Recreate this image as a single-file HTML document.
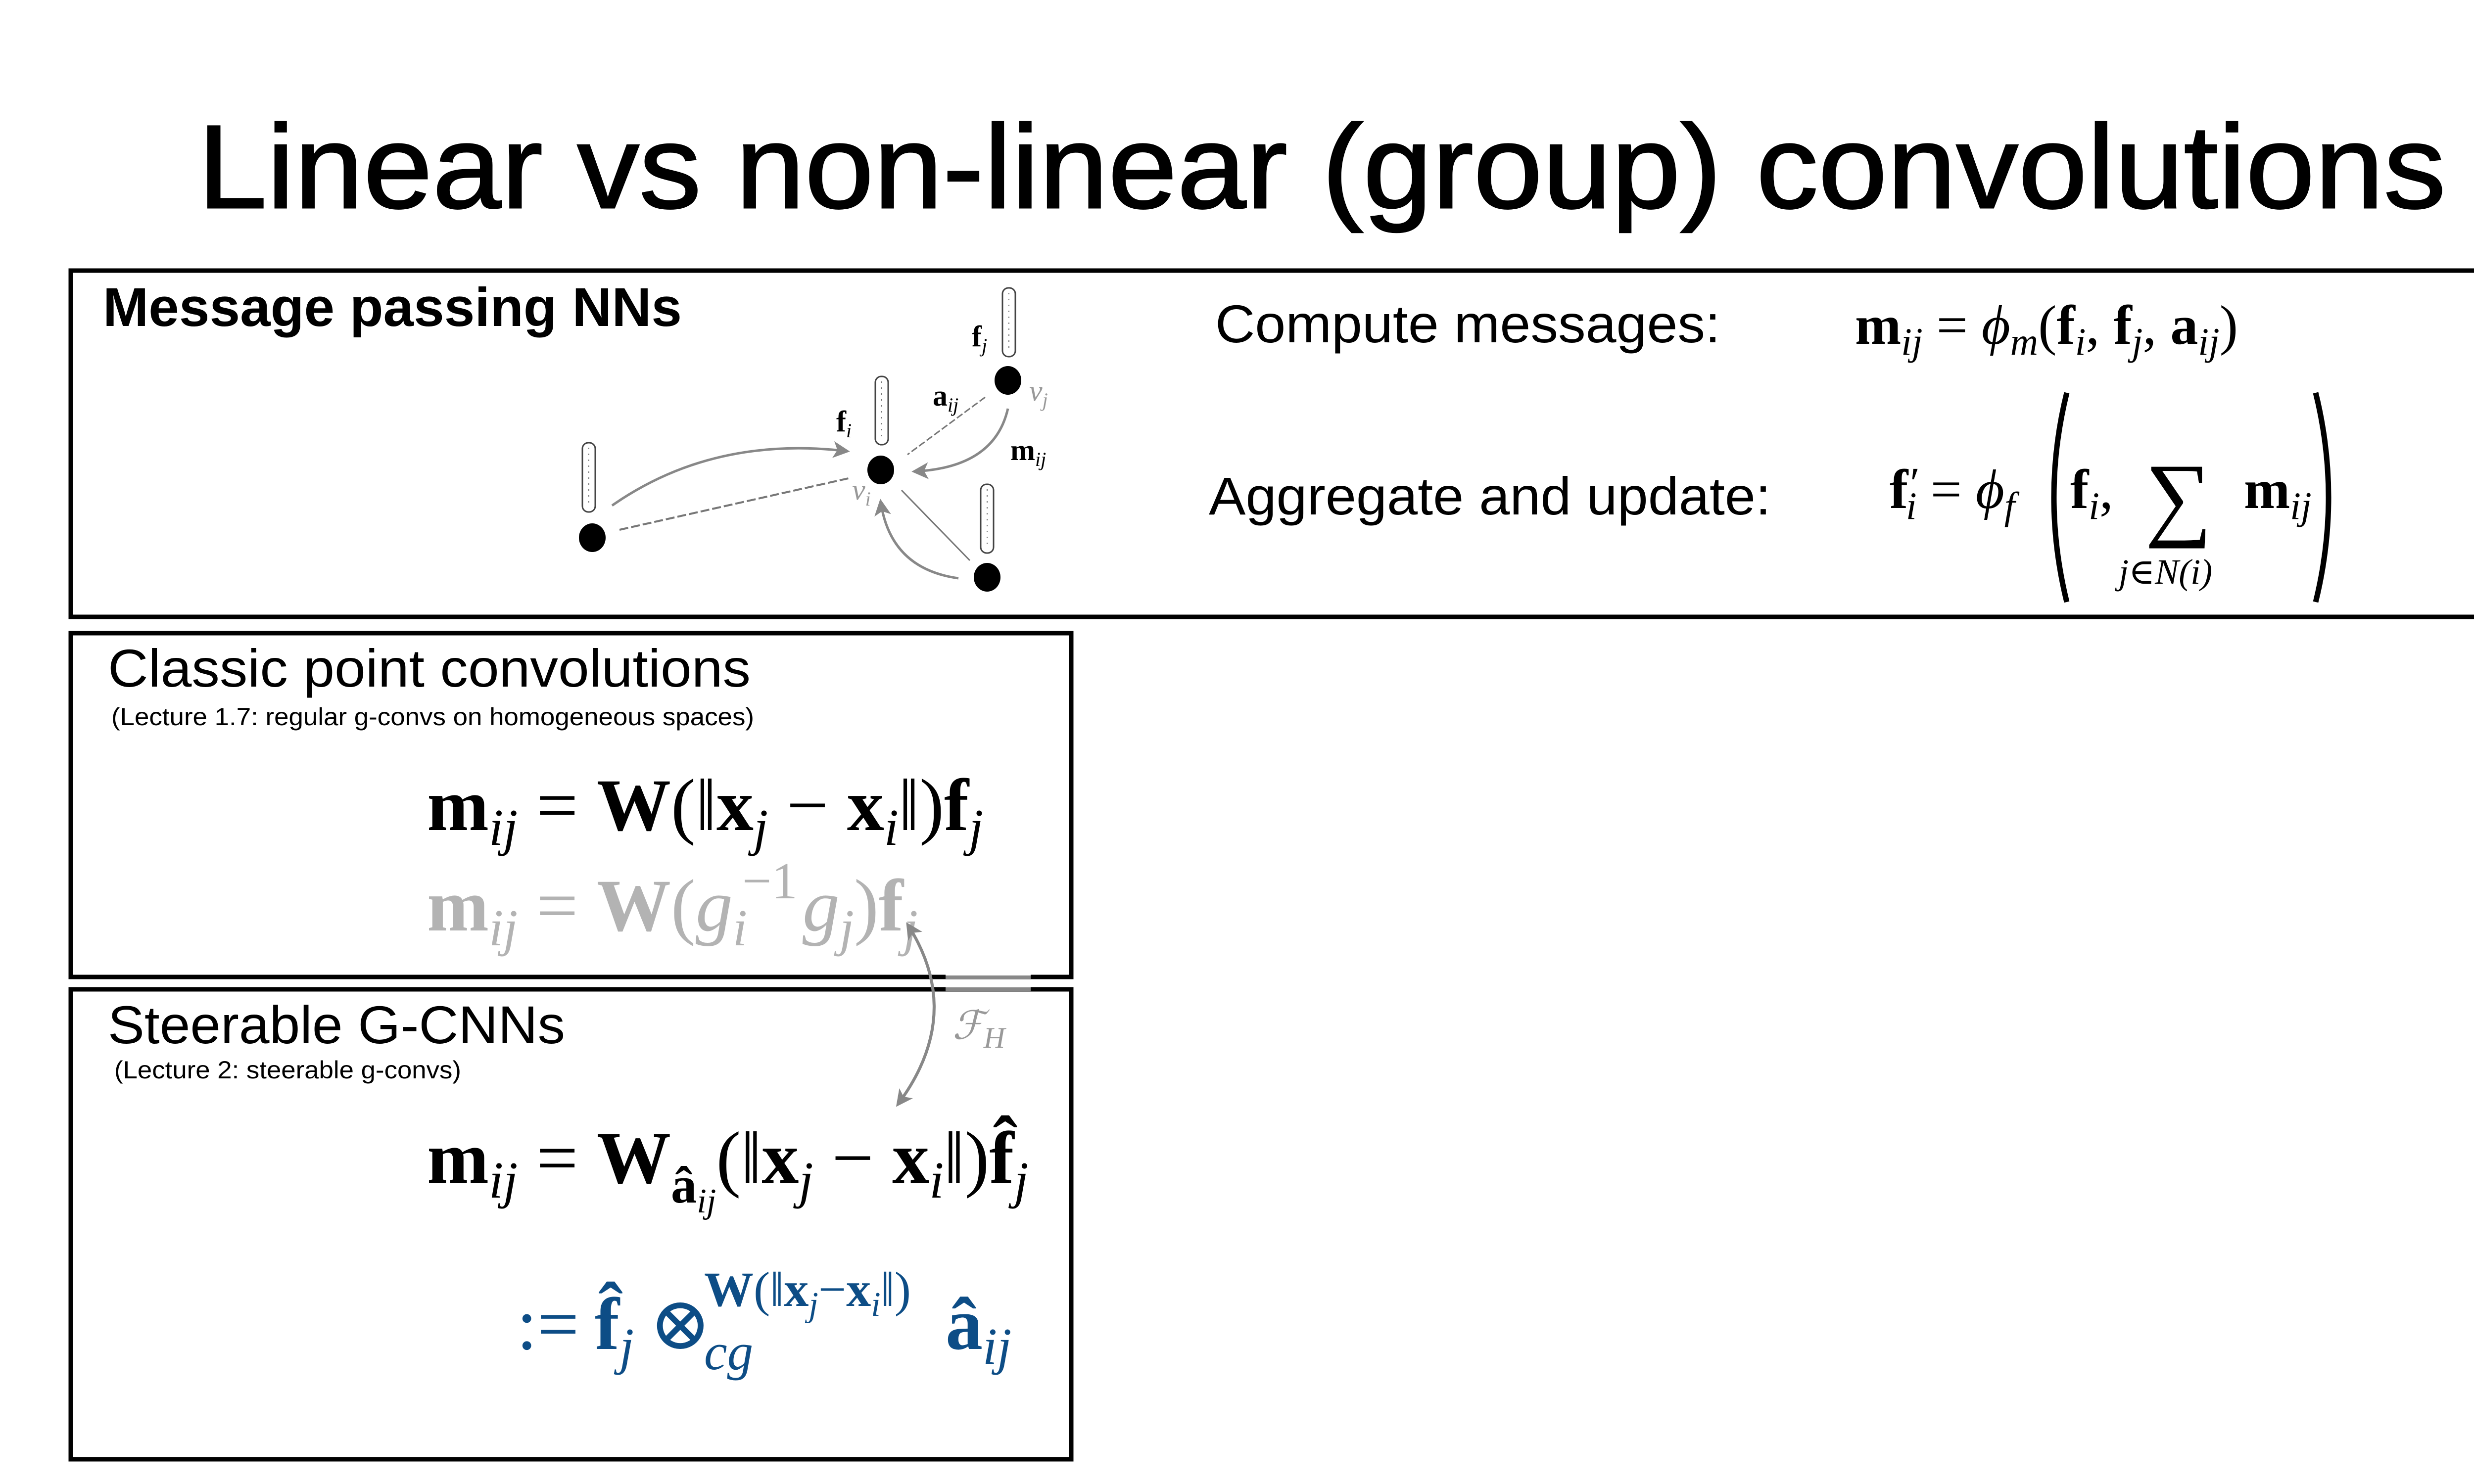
<!DOCTYPE html>
<html><head><meta charset="utf-8"><style>
html,body{margin:0;padding:0;background:#fff;overflow:hidden;width:5334px;height:3000px;}
svg{display:block;}
.s{font-family:"Liberation Sans",sans-serif;}
.m{font-family:"Liberation Serif","DejaVu Serif",serif;}
.b{font-weight:bold;}
.i{font-style:italic;}
</style></head><body>
<svg width="5334" height="3000" viewBox="0 0 5334 3000" xmlns="http://www.w3.org/2000/svg">
<defs>
<marker id="ah" viewBox="0 0 10 10" refX="8" refY="5" markerWidth="34" markerHeight="34" orient="auto-start-reverse" markerUnits="userSpaceOnUse">
<path d="M0,0 L10,5 L0,10 L2.5,5 z" fill="#888"/>
</marker>
</defs>
<rect width="5334" height="3000" fill="#fff"/>

<!-- Title -->
<text class="s" x="400" y="420" font-size="240" textLength="4543" lengthAdjust="spacingAndGlyphs" stroke="#000" stroke-width="3">Linear vs non-linear (group) convolutions</text>

<!-- Boxes -->
<rect x="143" y="547" width="5021" height="700" fill="none" stroke="#000" stroke-width="9"/>
<rect x="143" y="1280" width="2022" height="695" fill="none" stroke="#000" stroke-width="9"/>
<rect x="143" y="2000" width="2022" height="950" fill="none" stroke="#000" stroke-width="9"/>
<rect x="1911" y="1970" width="172" height="34" fill="#fff"/>
<rect x="1911" y="1972" width="172" height="8" fill="#888"/>
<rect x="1911" y="1996" width="172" height="8" fill="#888"/>

<!-- Box 1 text -->
<text class="s b" x="208" y="659" font-size="110" textLength="1170" lengthAdjust="spacingAndGlyphs">Message passing NNs</text>
<text class="s" x="2456" y="692" font-size="108" textLength="1021" lengthAdjust="spacingAndGlyphs">Compute messages:</text>
<text class="s" x="2443" y="1040" font-size="108" textLength="1136" lengthAdjust="spacingAndGlyphs">Aggregate and update:</text>

<!-- graph -->
<g fill="none" stroke="#888" stroke-width="5">
<path d="M1237,1022 Q1440,880 1711,912" marker-end="url(#ah)"/>
<path d="M1252,1071 L1719,966" stroke="#777" stroke-width="4" stroke-dasharray="18 6"/>
<path d="M1991,803 L1834,919" stroke="#777" stroke-width="3" stroke-dasharray="14 5"/>
<path d="M2037,826 Q2010,945 1849,953" marker-end="url(#ah)"/>
<path d="M1822,991 L1960,1133" stroke="#777" stroke-width="3"/>
<path d="M1937,1169 Q1800,1150 1780,1015" marker-end="url(#ah)"/>
</g>
<g fill="#000">
<ellipse cx="1197" cy="1087" rx="27" ry="29"/>
<ellipse cx="1780" cy="950" rx="27" ry="29"/>
<ellipse cx="2037" cy="769" rx="27" ry="29"/>
<ellipse cx="1995" cy="1167" rx="27" ry="29"/>
</g>
<g fill="#fff" stroke="#444" stroke-width="3">
<rect x="1177" y="895" width="26" height="140" rx="12"/>
<rect x="1769" y="761" width="26" height="138" rx="12"/>
<rect x="2026" y="582" width="26" height="139" rx="12"/>
<rect x="1982" y="979" width="26" height="139" rx="12"/>
</g>
<g stroke="#777" stroke-width="2" stroke-dasharray="3 9">
<line x1="1190" y1="905" x2="1190" y2="1025"/>
<line x1="1782" y1="771" x2="1782" y2="889"/>
<line x1="2039" y1="592" x2="2039" y2="711"/>
<line x1="1995" y1="989" x2="1995" y2="1108"/>
</g>
<text class="m b" x="1964" y="700" font-size="60">f<tspan class="i" font-weight="normal" font-size="40" dy="12">j</tspan></text>
<text class="m b" x="1885" y="820" font-size="60">a<tspan class="i" font-weight="normal" font-size="40" dy="12">ij</tspan></text>
<text class="m b" x="1690" y="872" font-size="60">f<tspan class="i" font-weight="normal" font-size="40" dy="12">i</tspan></text>
<text class="m b" x="2042" y="930" font-size="60">m<tspan class="i" font-weight="normal" font-size="40" dy="12">ij</tspan></text>
<text class="m i" x="2080" y="810" font-size="60" fill="#999">v<tspan font-size="40" dy="12">j</tspan></text>
<text class="m i" x="1722" y="1010" font-size="60" fill="#999">v<tspan font-size="40" dy="12">i</tspan></text>

<!-- top formulas -->
<text class="m" x="3749" y="695" font-size="112"><tspan class="b">m</tspan><tspan class="i" font-size="78" dy="22">ij</tspan><tspan dy="-22"> = </tspan><tspan class="i">ϕ</tspan><tspan class="i" font-size="78" dy="22">m</tspan><tspan dy="-22">(</tspan><tspan class="b">f</tspan><tspan class="i" font-size="78" dy="22">i</tspan><tspan dy="-22">, </tspan><tspan class="b">f</tspan><tspan class="i" font-size="78" dy="22">j</tspan><tspan dy="-22">, </tspan><tspan class="b">a</tspan><tspan class="i" font-size="78" dy="22">ij</tspan><tspan dy="-22">)</tspan></text>

<text class="m" x="3819" y="1027" font-size="112"><tspan class="b">f</tspan><tspan font-size="90" dx="4" dy="-20">′</tspan><tspan class="i" font-size="78" dx="-28" dy="42">i</tspan><tspan dy="-22"> = </tspan><tspan class="i">ϕ</tspan><tspan class="i" font-size="78" dy="22">f</tspan></text>
<path d="M4177,794 Q4125,1005 4177,1217" fill="none" stroke="#000" stroke-width="11"/>
<path d="M4680,794 Q4732,1005 4680,1217" fill="none" stroke="#000" stroke-width="11"/>
<text class="m" x="4184" y="1027" font-size="112"><tspan class="b">f</tspan><tspan class="i" font-size="78" dy="22">i</tspan><tspan dy="-22">,</tspan></text>
<text class="m" x="4335" y="1068" font-size="190">∑</text>
<text class="m i" x="4282" y="1180" font-size="72">j∈N(i)</text>
<text class="m" x="4535" y="1027" font-size="112"><tspan class="b">m</tspan><tspan class="i" font-size="78" dy="22">ij</tspan></text>

<!-- Box 2 -->
<text class="s" x="218" y="1388" font-size="108" textLength="1299" lengthAdjust="spacingAndGlyphs">Classic point convolutions</text>
<text class="s" x="225" y="1466" font-size="50" textLength="1299" lengthAdjust="spacingAndGlyphs">(Lecture 1.7: regular g-convs on homogeneous spaces)</text>

<text class="m" x="863" y="1678" font-size="150"><tspan class="b">m</tspan><tspan class="i" font-size="105" dy="30">ij</tspan><tspan dy="-30"> = </tspan><tspan class="b">W</tspan><tspan>(‖</tspan><tspan class="b">x</tspan><tspan class="i" font-size="105" dy="30">j</tspan><tspan dy="-30"> − </tspan><tspan class="b">x</tspan><tspan class="i" font-size="105" dy="30">i</tspan><tspan dy="-30">‖)</tspan><tspan class="b">f</tspan><tspan class="i" font-size="105" dy="30">j</tspan></text>

<text class="m" x="863" y="1881" font-size="150" fill="#b3b3b3"><tspan class="b">m</tspan><tspan class="i" font-size="105" dy="30">ij</tspan><tspan dy="-30"> = </tspan><tspan class="b">W</tspan><tspan>(</tspan><tspan class="i">g</tspan><tspan class="i" font-size="105" dy="30">i</tspan><tspan font-size="105" dx="-10" dy="-95">−1</tspan><tspan class="i" dx="10" dy="65">g</tspan><tspan class="i" font-size="105" dy="30">j</tspan><tspan dy="-30">)</tspan><tspan class="b">f</tspan><tspan class="i" font-size="105" dy="30">j</tspan></text>

<!-- F_H arrow -->
<path d="M1835,1870 Q1950,2050 1815,2232" fill="none" stroke="#888" stroke-width="6" marker-start="url(#ah)" marker-end="url(#ah)"/>
<text class="m i" x="1925" y="2100" font-size="80" fill="#999">ℱ<tspan font-size="60" dy="18">H</tspan></text>

<!-- Box 3 -->
<text class="s" x="218" y="2109" font-size="108" textLength="924" lengthAdjust="spacingAndGlyphs">Steerable G-CNNs</text>
<text class="s" x="231" y="2180" font-size="50" textLength="701" lengthAdjust="spacingAndGlyphs">(Lecture 2: steerable g-convs)</text>

<text class="m" x="863" y="2391" font-size="150"><tspan class="b">m</tspan><tspan class="i" font-size="105" dy="30">ij</tspan><tspan dy="-30"> = </tspan><tspan class="b">W</tspan><tspan class="b" font-size="105" dy="40">â</tspan><tspan class="i" font-size="70" dy="20">ij</tspan><tspan dy="-60">(‖</tspan><tspan class="b">x</tspan><tspan class="i" font-size="105" dy="30">j</tspan><tspan dy="-30"> − </tspan><tspan class="b">x</tspan><tspan class="i" font-size="105" dy="30">i</tspan><tspan dy="-30">‖)</tspan><tspan class="b">f̂</tspan><tspan class="i" font-size="105" dy="30">j</tspan></text>

<g fill="#0d4d86">
<text class="m" x="1044" y="2727" font-size="150">:=</text>
<text class="m" x="1202" y="2727" font-size="150"><tspan class="b">f̂</tspan><tspan class="i" font-size="105" dy="30">j</tspan></text>
<text class="m" x="1312" y="2727" font-size="150">⊗</text>
<text class="m i" x="1423" y="2768" font-size="105">cg</text>
<text class="m" x="1423" y="2640" font-size="100"><tspan class="b">W</tspan><tspan>(‖</tspan><tspan class="b">x</tspan><tspan class="i" font-size="70" dy="20">j</tspan><tspan dy="-20">−</tspan><tspan class="b">x</tspan><tspan class="i" font-size="70" dy="20">i</tspan><tspan dy="-20">‖)</tspan></text>
<text class="m" x="1911" y="2727" font-size="150"><tspan class="b">â</tspan><tspan class="i" font-size="105" dy="30">ij</tspan></text>
</g>

<text class="s" x="5195" y="2936" font-size="62">20</text>
</svg>
</body></html>
